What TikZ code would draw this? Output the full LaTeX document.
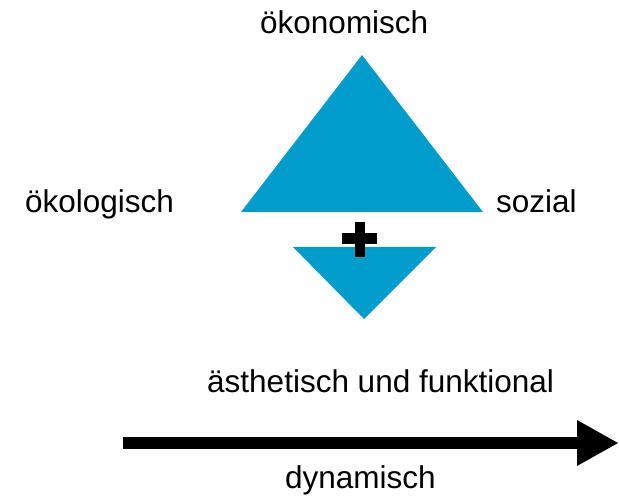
\documentclass[tikz,border=0pt]{standalone}
\usepackage{fontspec}
\setmainfont{Liberation Sans}
\definecolor{tri}{HTML}{009CCB}
\begin{document}
\begin{tikzpicture}[x=1pt,y=-1pt,
  lbl/.style={anchor=base west,inner sep=0pt,font=\fontsize{31.5}{38}\selectfont}]
\useasboundingbox (0,0) rectangle (619,497);
% triangles
\fill[tri] (362,55) -- (483,212) -- (241,212) -- cycle;
\fill[tri] (293,247) -- (436,247) -- (364,319) -- cycle;
% plus sign
\fill[black] (342,233) rectangle (377,244);
\fill[black] (355,222) rectangle (365,257);
% labels
\node[lbl] (oek) at (260,34) {ökonomisch};
\node[lbl] (oeko) at (25,213) {ökologisch};
\node[lbl] (soz) at (496,213) {sozial};
\node[lbl] (aes) at (207,392) {ästhetisch und funktional};
\node[lbl] (dyn) at (285,488) {dynamisch};
% arrow
\coordinate (as) at (123,443);
\coordinate (ab) at (578,443);
\coordinate (at) at (618,443);
\draw[line width=12pt] (as) -- (ab);
\fill[black] (577,420) -- (at) -- (577,466) -- cycle;
\end{tikzpicture}
\end{document}
